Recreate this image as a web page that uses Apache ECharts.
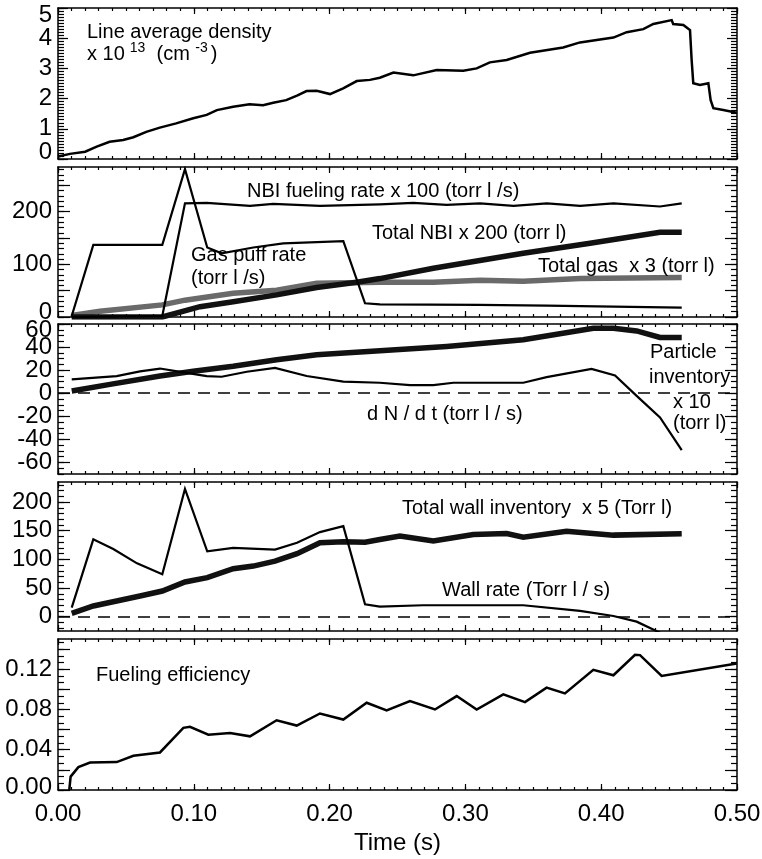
<!DOCTYPE html>
<html>
<head>
<meta charset="utf-8">
<script src="https://cdn.jsdelivr.net/npm/echarts@6/dist/echarts.min.js"></script>
<style>
  html, body { margin: 0; padding: 0; background: #fff; }
  #chart { width: 762px; height: 859px; }
</style>
</head>
<body>
<div id="chart"></div>
<script>
const FONT = '"Liberation Sans", Arial, Helvetica, sans-serif';

// x axis (time, s)
const timeTicks = [0, 0.1, 0.2, 0.3, 0.4, 0.5];
const timeTickLabels = ['0.00', '0.10', '0.20', '0.30', '0.40', '0.50'];

// panel 1: line average density (x 1e13 cm^-3)
const densityTime = [0, 0.0088, 0.02, 0.0285, 0.038, 0.048, 0.0555, 0.065, 0.075, 0.087,
  0.0996, 0.1095, 0.117, 0.129, 0.141, 0.151, 0.1585, 0.168, 0.176, 0.183,
  0.1905, 0.2003, 0.21, 0.22, 0.2297, 0.237, 0.247, 0.2616, 0.2789, 0.2984,
  0.3083, 0.318, 0.3304, 0.3476, 0.372, 0.3844, 0.409, 0.4188, 0.431, 0.4384,
  0.4519, 0.453, 0.4605, 0.4654, 0.4666, 0.4678, 0.4727, 0.4789, 0.4806, 0.4826,
  0.4899, 0.4998];
const densityValue = [0.08, 0.17, 0.24, 0.41, 0.57, 0.63, 0.72, 0.90, 1.04, 1.18,
  1.35, 1.46, 1.62, 1.73, 1.81, 1.78, 1.86, 1.95, 2.10, 2.25,
  2.26, 2.15, 2.34, 2.58, 2.62, 2.69, 2.86, 2.77, 2.95, 2.92,
  3.00, 3.20, 3.28, 3.52, 3.69, 3.86, 4.02, 4.20, 4.30, 4.47,
  4.60, 4.47, 4.44, 4.27, 3.28, 2.51, 2.45, 2.51, 1.95, 1.68,
  1.62, 1.53];
const densityTicks = [0, 1, 2, 3, 4, 5];

// panel 2: fueling
const gasPuffTime = [0.0101, 0.026, 0.0768, 0.0935, 0.1099, 0.1205, 0.1438, 0.1659, 0.2101, 0.2261, 0.237, 0.31, 0.36, 0.409, 0.4593];
const gasPuffValue = [2, 137, 137, 281, 132, 121, 132, 140, 144, 26, 24, 23, 21.5, 19.6, 17.7];
const nbiRateTime = [0.0101, 0.0768, 0.0935, 0.1095, 0.1414, 0.1585, 0.1929, 0.2371, 0.2616, 0.2862, 0.3108, 0.3354, 0.36, 0.3845, 0.409, 0.4433, 0.4593];
const nbiRateValue = [0, 2, 216, 217, 211, 215, 211, 214, 217, 213, 216, 211, 216, 211, 216, 210, 216];
const totalNbiTime = [0.0101, 0.0768, 0.1046, 0.129, 0.161, 0.1905, 0.22, 0.237, 0.2764, 0.3426, 0.3918, 0.4433, 0.4593];
const totalNbiValue = [0, 0, 19.6, 29, 42, 56, 66, 73, 92.5, 121, 140, 161, 161];
const totalGasTime = [0.0101, 0.0309, 0.0768, 0.0935, 0.129, 0.161, 0.1905, 0.237, 0.2764, 0.3108, 0.3426, 0.3844, 0.4593];
const totalGasValue = [3, 11, 23, 32, 45, 51, 64, 66, 66, 70, 68, 73, 75];
const fuelTickLabels = [0, 100, 200];
const fuelTicks = [0, 50, 100, 150, 200, 250];

// panel 3: particle inventory and dN/dt
const inventoryTime = [0.0101, 0.0383, 0.0751, 0.0996, 0.129, 0.161, 0.1905, 0.237, 0.2862, 0.3426, 0.3942, 0.409, 0.4261, 0.4433, 0.4593];
const inventoryValue = [2, 7.7, 14.9, 19.1, 23.4, 29, 33.4, 36.9, 40.6, 46.3, 56.3, 56.3, 54, 48.3, 48.3];
const dndtTime = [0.0101, 0.0432, 0.0604, 0.0751, 0.0948, 0.1095, 0.1205, 0.139, 0.1598, 0.1831, 0.2101,
  0.237, 0.2592, 0.2764, 0.2911, 0.3426, 0.3598, 0.3929, 0.4102, 0.4261, 0.4433, 0.4593];
const dndtValue = [12, 14.9, 19, 21.4, 17.7, 14.9, 14.3, 18.6, 22, 14.9, 10,
  9.1, 7.1, 7.1, 9.1, 9.1, 14, 21.1, 15.4, -2.3, -20.9, -49.4];
const inventoryTicks = [-60, -40, -20, 0, 20, 40, 60];

// panel 4: wall
const wallRateTime = [0.0101, 0.026, 0.0407, 0.0582, 0.0768, 0.0935, 0.1099, 0.129, 0.1598, 0.176, 0.1929,
  0.2101, 0.2261, 0.237, 0.2688, 0.3426, 0.3844, 0.409, 0.4261, 0.4433, 0.4593];
const wallRateValue = [15.7, 135, 118, 93, 74, 223, 114, 120, 117, 129, 147.6,
  158, 21.6, 17.4, 19.9, 19.9, 10, 1.2, -8.7, -28, -45];
const wallInvTime = [0.0101, 0.026, 0.0432, 0.0604, 0.0768, 0.0935, 0.1099, 0.129, 0.1438, 0.1598, 0.176, 0.1929,
  0.2101, 0.2261, 0.237, 0.2518, 0.2764, 0.3059, 0.3304, 0.3426, 0.3745, 0.409, 0.4593];
const wallInvValue = [5.9, 18.6, 27.4, 36, 44.8, 60.5, 68, 83.6, 88.3, 97, 110, 129,
  130.7, 130, 134.8, 140.6, 132, 143.5, 145, 138.8, 149, 142.3, 144.6];
const wallTicks = [0, 50, 100, 150, 200];

// panel 5: fueling efficiency
const efficiencyTime = [0.0083, 0.0093, 0.015, 0.0236, 0.0432, 0.0555, 0.0751, 0.0923, 0.0972, 0.1107,
  0.1267, 0.1414, 0.161, 0.1758, 0.1929, 0.2101, 0.2273, 0.242, 0.2592, 0.2776,
  0.2936, 0.3083, 0.3279, 0.3439, 0.3598, 0.3733, 0.3942, 0.409, 0.4249, 0.4286,
  0.4445, 0.4998];
const efficiencyValue = [0, 0.0133, 0.0227, 0.0273, 0.0277, 0.034, 0.0373, 0.0617, 0.0627, 0.055,
  0.0567, 0.0533, 0.0693, 0.064, 0.076, 0.07, 0.0867, 0.079, 0.0883, 0.08,
  0.0933, 0.08, 0.095, 0.0873, 0.1017, 0.096, 0.1193, 0.114, 0.1343, 0.134,
  0.1133, 0.1257];
const efficiencyTickLabels = [0, 0.04, 0.08, 0.12];
const efficiencyTicks = [0, 0.02, 0.04, 0.06, 0.08, 0.10, 0.12, 0.14];

function zip(xs, ys) {
  return xs.map((x, i) => [x, ys[i]]);
}

function steps(min, max, step) {
  const out = [];
  const first = Math.ceil(min / step - 1e-9);
  for (let k = first; k * step <= max + 1e-9; k++) out.push(+(k * step).toFixed(6));
  return out;
}

const PLOT_LEFT = 58;
const PLOT_WIDTH = 679;

// one entry per stacked panel: frame and y scale
const panels = [
  { top: 8, height: 151, min: 0, max: 5, labels: densityTicks, major: densityTicks, minorStep: 0.1,
    fmt: v => String(v), shift: { 0: -7, 5: 7 }, majorLen: 10, minorLen: 6 },
  { top: 167, height: 150, min: 0, max: 285, labels: fuelTickLabels, major: fuelTicks, minorStep: 10,
    fmt: v => String(v), shift: { 0: -5 }, majorLen: 12, minorLen: 6 },
  { top: 324, height: 150, min: -70, max: 60, labels: inventoryTicks, major: inventoryTicks, minorStep: 5,
    fmt: v => String(v), shift: { 60: 6 }, majorLen: 12, minorLen: 6 },
  { top: 482, height: 149, min: -25, max: 235, labels: wallTicks, major: wallTicks, minorStep: 10,
    fmt: v => String(v), shift: {}, majorLen: 12, minorLen: 6 },
  { top: 639, height: 151, min: 0, max: 0.15, labels: efficiencyTickLabels, major: efficiencyTicks, minorStep: 0.02 / 3,
    fmt: v => v.toFixed(2), shift: { 0: -3 }, majorLen: 12, minorLen: 6 }
];

const grid = [];
const xAxis = [];
const yAxis = [];

function baseAxis(extra) {
  return Object.assign({
    type: 'value',
    splitLine: { show: false },
    axisLine: { show: false, onZero: false },
    axisTick: { show: false },
    axisLabel: { show: false }
  }, extra);
}

// labels are split over two overlapping axes (every other value) so that
// neighbouring labels never collide and none gets auto-hidden
function yLabelOpts(p, parity) {
  const keys = Object.keys(p.shift);
  const rich = {};
  keys.forEach((k, j) => {
    const s = p.shift[k];
    rich['s' + j] = {
      fontSize: 24, fontFamily: FONT, color: '#000', lineHeight: 16,
      padding: s > 0 ? [2 * s, 0, 0, 0] : [0, 0, -2 * s, 0]
    };
  });
  const values = p.labels.filter((v, k) => k % 2 === parity);
  return {
    show: values.length > 0,
    customValues: values,
    showMinLabel: true,
    showMaxLabel: true,
    hideOverlap: false,
    margin: 6,
    fontSize: 24,
    lineHeight: 16,
    fontFamily: FONT,
    color: '#000',
    rich: rich,
    formatter: v => {
      const txt = p.fmt(v);
      const j = keys.findIndex(k => Math.abs(+k - v) < 1e-9);
      return j < 0 ? txt : `{s${j}|${txt}}`;
    }
  };
}

panels.forEach((p, i) => {
  const box = { left: PLOT_LEFT, width: PLOT_WIDTH, top: p.top, height: p.height, outerBoundsMode: 'none' };
  grid.push(Object.assign({}, box), Object.assign({}, box));
  const gMain = 2 * i;
  const gMinor = 2 * i + 1;
  const xMinor = steps(0, 0.5, 0.01);
  const yMinor = steps(p.min, p.max, p.minorStep);
  const isLast = i === panels.length - 1;
  const frameLine = { show: true, onZero: false, lineStyle: { color: '#000', width: 1.5 } };
  const tickStyle = { color: '#000', width: 1.2 };

  // x axes: main bottom, main top, minor bottom, minor top
  xAxis.push(baseAxis({
    gridIndex: gMain, position: 'bottom', min: 0, max: 0.5,
    axisLine: frameLine,
    axisTick: { show: true, inside: true, length: 6, customValues: timeTicks, lineStyle: tickStyle },
    axisLabel: isLast ? {
      show: true, customValues: timeTicks, hideOverlap: false, showMinLabel: true, showMaxLabel: true,
      margin: 12, fontSize: 24, fontFamily: FONT, color: '#000',
      formatter: v => timeTickLabels[timeTicks.findIndex(t => Math.abs(t - v) < 1e-9)]
    } : { show: false },
    name: isLast ? 'Time (s)' : '',
    nameLocation: 'middle',
    nameGap: 41,
    nameTextStyle: { fontSize: 24, fontFamily: FONT, color: '#000', verticalAlign: 'top' }
  }));
  xAxis.push(baseAxis({
    gridIndex: gMain, position: 'top', min: 0, max: 0.5,
    axisLine: frameLine,
    axisTick: { show: true, inside: true, length: 6, customValues: timeTicks, lineStyle: tickStyle }
  }));
  xAxis.push(baseAxis({
    gridIndex: gMinor, position: 'bottom', min: 0, max: 0.5,
    axisTick: { show: true, inside: true, length: 3, customValues: xMinor, lineStyle: tickStyle }
  }));
  xAxis.push(baseAxis({
    gridIndex: gMinor, position: 'top', min: 0, max: 0.5,
    axisTick: { show: true, inside: true, length: 3, customValues: xMinor, lineStyle: tickStyle }
  }));

  // y axes: main left, main right, minor left, minor right
  yAxis.push(baseAxis({
    gridIndex: gMain, position: 'left', min: p.min, max: p.max,
    axisLine: frameLine,
    axisTick: { show: true, inside: true, length: p.majorLen, customValues: p.major, lineStyle: tickStyle },
    axisLabel: yLabelOpts(p, 0)
  }));
  yAxis.push(baseAxis({
    gridIndex: gMain, position: 'right', min: p.min, max: p.max,
    axisLine: frameLine,
    axisTick: { show: true, inside: true, length: p.majorLen, customValues: p.major, lineStyle: tickStyle }
  }));
  yAxis.push(baseAxis({
    gridIndex: gMinor, position: 'left', min: p.min, max: p.max,
    axisTick: { show: true, inside: true, length: p.minorLen, customValues: yMinor, lineStyle: tickStyle },
    axisLabel: yLabelOpts(p, 1)
  }));
  yAxis.push(baseAxis({
    gridIndex: gMinor, position: 'right', min: p.min, max: p.max,
    axisTick: { show: true, inside: true, length: p.minorLen, customValues: yMinor, lineStyle: tickStyle }
  }));
});

const zeroLine = {
  silent: true,
  symbol: ['none', 'none'],
  label: { show: false },
  lineStyle: { color: '#000', width: 1.5, type: [12, 8] },
  data: [{ yAxis: 0 }]
};

function line(panel, data, width, color, extra) {
  return Object.assign({
    type: 'line',
    xAxisIndex: panel * 4,
    yAxisIndex: panel * 4,
    data: data,
    symbol: 'none',
    showSymbol: false,
    clip: true,
    lineStyle: { color: color || '#000', width: width, join: 'miter' },
    emphasis: { disabled: true }
  }, extra || {});
}

const series = [
  line(0, zip(densityTime, densityValue), 2.5),
  line(1, zip(totalGasTime, totalGasValue), 5.5, '#6a6a6a'),
  line(1, zip(totalNbiTime, totalNbiValue), 5.5, '#111'),
  line(1, zip(nbiRateTime, nbiRateValue), 2.2),
  line(1, zip(gasPuffTime, gasPuffValue), 2.2),
  line(2, zip(inventoryTime, inventoryValue), 5.5, '#111'),
  line(2, zip(dndtTime, dndtValue), 2.2, '#000', { markLine: zeroLine }),
  line(3, zip(wallInvTime, wallInvValue), 5.5, '#111'),
  line(3, zip(wallRateTime, wallRateValue), 2.2, '#000', { markLine: zeroLine }),
  line(4, zip(efficiencyTime, efficiencyValue), 2.5)
];

// annotation texts
const notes = [
  [87, 32, 'Line average density'],
  [87, 54, 'x 10{sup|13}  (cm {sup2|-3})'],
  [247, 191, 'NBI fueling rate x 100 (torr l /s)'],
  [372, 233, 'Total NBI x 200 (torr l)'],
  [191, 255, 'Gas puff rate'],
  [191, 278, '(torr l /s)'],
  [538, 266, 'Total gas  x 3 (torr l)'],
  [650, 352, 'Particle'],
  [649, 377, 'inventory'],
  [673, 402, 'x 10'],
  [673, 423, '(torr l)'],
  [367, 414, 'd N / d t (torr l / s)'],
  [402, 508, 'Total wall inventory  x 5 (Torr l)'],
  [442, 590, 'Wall rate (Torr l / s)'],
  [96, 675, 'Fueling efficiency']
];

const graphic = notes.map(n => ({
  type: 'text',
  x: n[0],
  y: n[1],
  z: 10,
  style: {
    text: n[2],
    fontSize: 20,
    fontFamily: FONT,
    fill: '#000',
    align: 'left',
    verticalAlign: 'middle',
    rich: {
      sup: { fontSize: 14, fontFamily: FONT, fill: '#000', padding: [0, 0, 12, 5] },
      sup2: { fontSize: 14, fontFamily: FONT, fill: '#000', padding: [0, 3, 12, 0] }
    }
  }
}));

const chart = echarts.init(document.getElementById('chart'), null, { renderer: 'canvas', width: 762, height: 859 });
chart.setOption({
  animation: false,
  backgroundColor: '#fff',
  grid: grid,
  xAxis: xAxis,
  yAxis: yAxis,
  series: series,
  graphic: graphic
});
</script>
</body>
</html>
